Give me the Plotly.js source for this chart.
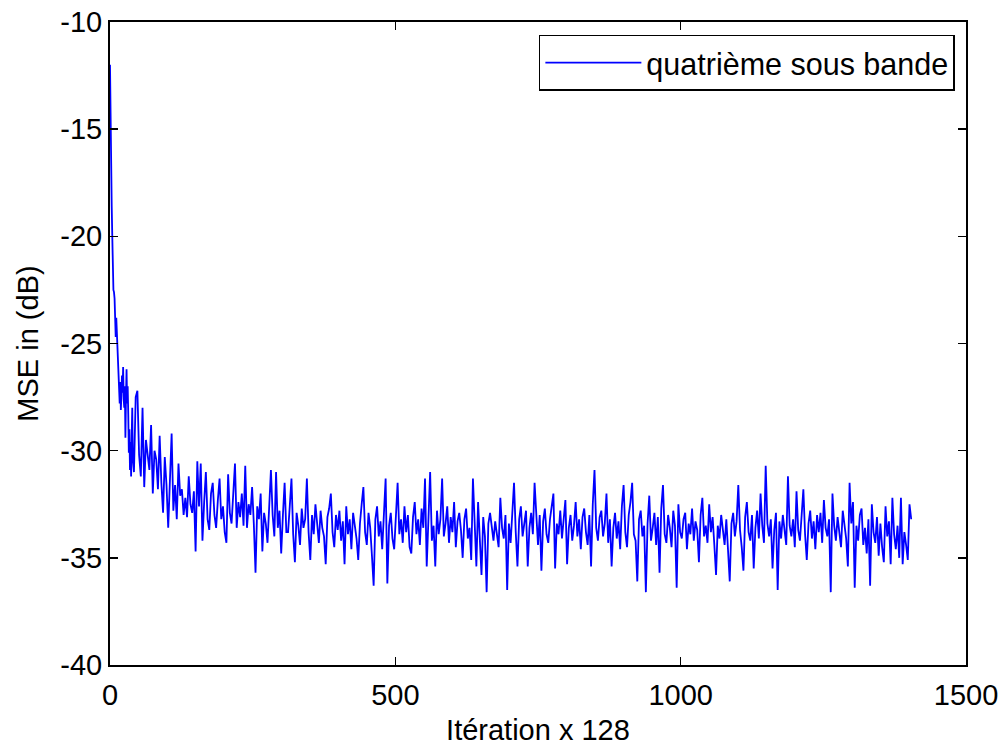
<!DOCTYPE html>
<html>
<head>
<meta charset="utf-8">
<script src="https://cdn.plot.ly/plotly-3.0.1.min.js"></script>
<style>
html,body{margin:0;padding:0;background:#fff;}
#chart{width:1007px;height:747px;}
</style>
</head>
<body>
<div id="chart"></div>
<script>
// ---- data ----
const seriesName = 'quatrième sous bande';

// first iterations (step 1)
const earlyIter = [0,1,2,3,4,5,6,7,8,9,10,11,12,13,14,15,16,17,18,19,20,
  21,22,23,24,25,26,27,28,29,30,31,32,33,34,35,36,37,38,39,40];
const earlyMSE = [-12.0,-15.0,-16.5,-18.6,-20.0,-22.2,-22.5,-22.6,-22.9,-23.8,-24.7,
  -23.8,-24.6,-25.3,-25.8,-26.6,-27.2,-27.8,-26.8,-28.1,-27.4,
  -26.5,-27.3,-26.1,-27.6,-28.0,-27.0,-29.4,-27.5,-26.2,-27.8,
  -27.0,-28.3,-30.1,-29.0,-30.9,-29.6,-31.2,-29.3,-28.0,-30.4];

// later iterations, sampled every 3 iterations from 42
const lateStart = 42;
const lateStep = 3;
const lateMSE = [
  -31.0,-27.5,-27.2,-30.2,-31.2,-28.0,-31.7,-29.5,-30.3,-30.9,-28.8,-32.0,-30.0,-30.4,-31.8,-29.3,-31.5,-32.9,-30.3,-31.6,
  -33.6,-31.0,-29.2,-32.8,-31.6,-33.2,-30.6,-32.1,-31.8,-33.0,-32.2,-33.1,-31.2,-32.5,-32.9,-31.9,-34.7,-30.5,-32.6,-30.6,
  -34.2,-32.4,-31.0,-33.2,-33.7,-32.0,-31.5,-33.0,-33.6,-32.3,-31.3,-33.2,-32.6,-33.8,-34.3,-31.1,-32.9,-33.4,-32.2,-30.6,
  -33.6,-32.4,-33.1,-32.0,-33.5,-30.7,-33.6,-32.5,-33.0,-31.7,-33.4,-35.7,-32.6,-33.2,-32.0,-34.7,-32.9,-33.4,-34.3,-32.5,
  -30.9,-33.0,-34.0,-31.0,-33.6,-32.8,-34.8,-33.0,-31.5,-33.8,-33.8,-32.6,-31.3,-33.9,-35.2,-32.9,-33.5,-34.4,-32.7,-33.6,
  -33.2,-31.3,-33.8,-35.1,-33.0,-33.9,-32.5,-33.4,-34.3,-32.8,-33.6,-34.0,-35.3,-33.1,-32.7,-32.0,-33.8,-34.5,-33.0,-33.7,
  -32.8,-34.2,-33.3,-35.3,-32.6,-33.9,-33.2,-34.6,-32.9,-33.5,-34.1,-35.1,-33.4,-32.5,-31.7,-33.8,-34.4,-32.9,-33.6,-34.9,
  -36.3,-33.2,-32.6,-34.0,-33.3,-34.6,-32.8,-31.3,-36.2,-33.5,-32.9,-34.1,-34.6,-33.0,-31.5,-33.9,-33.2,-34.3,-32.6,-33.8,
  -33.0,-34.5,-34.8,-33.1,-32.4,-33.9,-33.2,-34.4,-32.7,-33.6,-31.3,-35.4,-33.0,-31.0,-34.2,-33.5,-35.4,-32.8,-33.9,-33.2,
  -31.3,-34.0,-33.4,-32.6,-34.3,-33.1,-33.8,-32.4,-34.5,-33.3,-32.9,-33.7,-35.0,-33.2,-32.7,-34.1,-33.6,-35.1,-31.3,-33.5,
  -35.4,-32.4,-33.8,-35.8,-33.1,-34.0,-36.6,-33.4,-32.9,-33.7,-34.2,-33.3,-33.9,-34.5,-32.2,-33.6,-34.1,-33.0,-36.5,-33.4,
  -34.3,-32.7,-31.5,-33.8,-35.4,-33.2,-32.6,-34.0,-33.4,-32.8,-35.4,-33.6,-32.9,-33.9,-31.5,-33.1,-34.4,-33.0,-35.6,-33.3,
  -32.7,-33.9,-34.3,-33.2,-32.6,-32.0,-35.5,-33.4,-33.9,-32.8,-34.1,-33.3,-32.3,-35.3,-33.6,-33.0,-34.2,-33.5,-32.4,-34.0,
  -33.2,-34.6,-33.1,-32.7,-33.8,-34.4,-33.0,-35.4,-32.5,-30.9,-33.6,-34.2,-33.1,-32.8,-34.0,-33.4,-32.0,-34.3,-33.2,-35.4,
  -33.6,-32.9,-34.1,-33.3,-34.6,-32.6,-31.6,-33.8,-34.5,-33.0,-32.4,-31.5,-33.9,-34.2,-36.1,-33.2,-32.8,-34.0,-33.5,-36.6,
  -33.4,-32.1,-34.2,-33.6,-32.9,-34.4,-33.1,-35.7,-32.7,-31.6,-33.9,-34.3,-33.0,-33.6,-34.5,-32.8,-33.5,-36.4,-32.5,-33.8,
  -34.1,-33.2,-32.9,-34.6,-33.4,-33.9,-32.7,-34.2,-33.3,-33.7,-35.2,-33.0,-32.2,-34.0,-33.5,-34.3,-32.5,-33.8,-33.1,-34.4,
  -35.8,-33.5,-34.1,-33.0,-33.6,-34.4,-33.2,-34.8,-36.1,-33.4,-32.9,-34.0,-33.3,-31.6,-33.7,-34.5,-35.6,-33.1,-32.4,-33.8,
  -34.2,-33.0,-35.5,-33.6,-32.8,-34.1,-32.0,-33.5,-34.3,-30.7,-33.4,-34.0,-33.2,-35.5,-33.7,-32.9,-36.5,-33.3,-34.1,-33.0,
  -33.6,-34.4,-31.2,-33.5,-34.0,-33.2,-34.5,-31.9,-33.7,-34.2,-33.0,-31.8,-33.9,-35.1,-33.4,-32.8,-34.1,-33.3,-34.6,-33.0,
  -33.8,-32.9,-34.3,-32.3,-33.6,-34.0,-33.2,-36.6,-32.0,-33.5,-34.2,-33.1,-33.8,-34.5,-32.8,-33.6,-34.1,-35.4,-31.5,-33.4,
  -32.4,-36.4,-33.5,-34.2,-33.0,-32.7,-34.4,-33.6,-34.8,-33.2,-36.3,-32.5,-33.8,-34.3,-33.1,-34.9,-33.4,-34.5,-35.2,-32.6,
  -34.0,-33.3,-35.3,-32.2,-33.9,-34.6,-33.5,-35.0,-32.2,-35.3,-33.8,-34.4,-35.1,-32.5,-33.2
];

const xTickVals = [0, 500, 1000, 1500];
const xTickText = ['0', '500', '1000', '1500'];
const yTickVals = [-40, -35, -30, -25, -20, -15, -10];
const yTickText = ['-40', '-35', '-30', '-25', '-20', '-15', '-10'];

// ---- build the series ----
const lateIter = lateMSE.map((_, i) => lateStart + i * lateStep);
const iter = earlyIter.concat(lateIter);
const mse = earlyMSE.concat(lateMSE);

const FONT = 'Arial, "Liberation Sans", Helvetica, sans-serif';

const trace = {
  x: iter,
  y: mse,
  type: 'scatter',
  mode: 'lines',
  name: seriesName,
  line: {color: '#0000ff', width: 1.8}
};

const axisCommon = {
  showgrid: false,
  zeroline: false,
  showline: true,
  linecolor: '#000',
  linewidth: 2,
  mirror: 'allticks',
  ticks: 'inside',
  ticklen: 8,
  tickwidth: 1.5,
  tickcolor: '#000',
  tickfont: {family: FONT, size: 29, color: '#000'},
  tickmode: 'array'
};

const layout = {
  width: 1007,
  height: 747,
  margin: {l: 110, r: 41, t: 22, b: 82},
  paper_bgcolor: '#fff',
  plot_bgcolor: '#fff',
  showlegend: true,
  xaxis: Object.assign({}, axisCommon, {
    range: [0, 1500],
    tickvals: xTickVals,
    ticktext: xTickText,
    ticklabelstandoff: 3,
    title: {text: 'Itération x 128', font: {family: FONT, size: 29, color: '#000'}, standoff: 10}
  }),
  yaxis: Object.assign({}, axisCommon, {
    range: [-40, -10],
    tickvals: yTickVals,
    ticktext: yTickText,
    ticklabelstandoff: 0,
    title: {text: 'MSE in (dB)', font: {family: FONT, size: 29, color: '#000'}, standoff: 13}
  }),
  legend: {
    x: 0.987, y: 0.98,
    xanchor: 'right', yanchor: 'top',
    bgcolor: '#fff',
    bordercolor: '#000',
    borderwidth: 1.5,
    font: {family: FONT, size: 30.5, color: '#000'},
    itemwidth: 96,
    tracegroupgap: 0
  }
};

Plotly.newPlot('chart', [trace], layout, {staticPlot: true, displayModeBar: false});
</script>
</body>
</html>
